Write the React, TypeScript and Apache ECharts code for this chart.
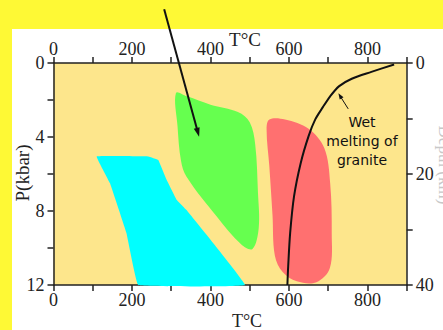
import React, { useEffect, useRef } from "react";
import * as echarts from "echarts";

// Tick labels
const tempLabels = [0, 200, 400, 600, 800];
const pressureLabels = [0, 4, 8, 12];
const depthLabels = [0, 20, 40];

// Regions [T°C, P kbar]
const cyanRegion: number[][] = [
  [110, 5.05], [242, 5.05], [267, 5.24], [288, 6.3], [314, 7.4], [339, 7.95],
  [488, 12], [216, 12], [186, 9.2], [144, 6.5],
];
const greenRegion: number[][] = [
  [312, 1.62], [340, 1.8], [400, 2.25], [470, 2.65], [500, 3.2], [514, 4.4],
  [521, 7.0], [523, 8.9], [507, 10.05], [478, 9.8], [416, 8.3], [339, 6.15],
  [325, 5.3], [316, 3.4],
];
const redRegion: number[][] = [
  [550, 3.05], [590, 3.05], [650, 3.55], [690, 4.6], [705, 6.5], [709, 9.2],
  [704, 11.1], [670, 11.85], [620, 11.8], [584, 11.3], [564, 10.4], [558, 8.2],
  [550, 5.6], [543, 3.6],
];
// Wet melting curve of granite
const wetMelting: number[][] = [
  [868, 0.08], [810, 0.48], [760, 0.85], [728, 1.25], [705, 1.8], [686, 2.4],
  [667, 3.05], [650, 3.95], [630, 5.4], [613, 7.2], [603, 9.2], [598, 11.0], [596, 12],
];
// Annotation arrows [from, to]
const bigArrow: number[][] = [[282, -2.9], [371, 3.98]];
const smallArrow: number[][] = [[751, 2.48], [726, 1.64]];
const wetLabelPos = [786, 4.2];

const serif = "Liberation Serif";
const axisColor = "#222";

function arrow(api: any, pts: number[][], lw: number, headLen: number, headW: number, color: string) {
  const a = api.coord(pts[0]);
  const b = api.coord(pts[1]);
  const dx = b[0] - a[0];
  const dy = b[1] - a[1];
  const len = Math.hypot(dx, dy);
  const ux = dx / len;
  const uy = dy / len;
  const bx = b[0] - ux * headLen;
  const by = b[1] - uy * headLen;
  const px = -uy;
  const py = ux;
  return {
    type: "group",
    children: [
      { type: "line", shape: { x1: a[0], y1: a[1], x2: bx + ux, y2: by + uy }, style: { stroke: color, lineWidth: lw } },
      {
        type: "polygon",
        shape: {
          points: [
            [b[0], b[1]],
            [bx + (px * headW) / 2, by + (py * headW) / 2],
            [bx - (px * headW) / 2, by - (py * headW) / 2],
          ],
        },
        style: { fill: color },
      },
    ],
  };
}

function regionSeries(pts: number[][], color: string, smooth: number) {
  return {
    type: "custom",
    coordinateSystem: "cartesian2d",
    xAxisIndex: 0,
    yAxisIndex: 0,
    silent: true,
    data: [[pts[0][0], pts[0][1]]],
    renderItem: (_p: any, api: any) => ({
      type: "polygon",
      shape: { points: pts.map((p) => api.coord(p)), smooth },
      style: { fill: color },
    }),
  };
}

export default function App() {
  const ref = useRef<HTMLDivElement>(null);
  useEffect(() => {
    const chart = echarts.init(ref.current!, null, { renderer: "svg" });
    const labelStyle = { fontFamily: serif, fontSize: 18, color: axisColor };
    const xAxisBase = {
      type: "value",
      min: 0,
      max: 900,
      interval: 100,
      splitLine: { show: false },
      axisLine: { show: true, onZero: false, lineStyle: { color: axisColor, width: 1.5 } },
      axisTick: { show: true, inside: false, length: 6, lineStyle: { color: axisColor, width: 1.5 } },
    };
    chart.setOption({
      animation: false,
      grid: {
        left: 53.5,
        right: 36.3,
        top: 63,
        bottom: 45,
        show: true,
        backgroundColor: "#fde68c",
        borderWidth: 0,
      },
      xAxis: [
        {
          ...xAxisBase,
          position: "bottom",
          axisLabel: {
            ...labelStyle,
            margin: 6,
            formatter: (v: number) => (tempLabels.includes(v) ? String(v) : ""),
          },
        },
        {
          ...xAxisBase,
          position: "top",
          axisLabel: {
            ...labelStyle,
            margin: 5,
            formatter: (v: number) => (tempLabels.includes(v) ? String(v) : ""),
          },
        },
      ],
      yAxis: [
        {
          type: "value",
          position: "left",
          min: 0,
          max: 12,
          interval: 2,
          inverse: true,
          splitLine: { show: false },
          axisLine: { show: true, onZero: false, lineStyle: { color: axisColor, width: 1.5 } },
          axisTick: { show: true, length: 6, lineStyle: { color: axisColor, width: 1.5 } },
          axisLabel: {
            ...labelStyle,
            margin: 9,
            formatter: (v: number) => (pressureLabels.includes(v) ? String(v) : ""),
          },
        },
        {
          type: "value",
          position: "right",
          min: 0,
          max: 40,
          interval: 10,
          inverse: true,
          splitLine: { show: false },
          axisLine: { show: true, onZero: false, lineStyle: { color: axisColor, width: 1.5 } },
          axisTick: { show: true, length: 6, lineStyle: { color: axisColor, width: 1.5 } },
          axisLabel: {
            ...labelStyle,
            margin: 9,
            formatter: (v: number) => (depthLabels.includes(v) ? String(v) : ""),
          },
        },
      ],
      graphic: [
        { type: "text", x: 245, y: 39, style: { text: "T°C", font: `19px "${serif}"`, fill: axisColor, align: "center", verticalAlign: "middle" } },
        { type: "text", x: 247, y: 321, style: { text: "T°C", font: `18px "${serif}"`, fill: axisColor, align: "center", verticalAlign: "middle" } },
        { type: "text", x: 22, y: 173, rotation: Math.PI / 2, style: { text: "P(kbar)", font: `19px "${serif}"`, fill: axisColor, align: "center", verticalAlign: "middle" } },
        { type: "text", x: 444, y: 165, rotation: -Math.PI / 2, style: { text: "Depth (km)", font: `17px "${serif}"`, fill: "#c8c8c8", align: "center", verticalAlign: "middle" } },
      ],
      series: [
        regionSeries(cyanRegion, "#00ffff", 0.05),
        regionSeries(greenRegion, "#66ff4f", 0.35),
        regionSeries(redRegion, "#ff7070", 0.35),
        {
          type: "line",
          xAxisIndex: 0,
          yAxisIndex: 0,
          data: wetMelting,
          smooth: 0.3,
          showSymbol: false,
          silent: true,
          lineStyle: { color: "#111", width: 2 },
        },
        {
          type: "custom",
          coordinateSystem: "cartesian2d",
          xAxisIndex: 0,
          yAxisIndex: 0,
          clip: false,
          silent: true,
          z: 10,
          data: [[wetLabelPos[0], wetLabelPos[1]]],
          renderItem: (_p: any, api: any) => {
            const lp = api.coord(wetLabelPos);
            return {
              type: "group",
              children: [
                arrow(api, bigArrow, 2, 9, 6, "#111"),
                arrow(api, smallArrow, 1, 6, 4.5, "#111"),
                {
                  type: "text",
                  x: lp[0],
                  y: lp[1],
                  style: {
                    text: "Wet\nmelting of\ngranite",
                    font: '14px "DejaVu Sans"',
                    fill: "#111",
                    align: "center",
                    verticalAlign: "middle",
                    lineHeight: 19,
                  },
                },
              ],
            };
          },
        },
      ],
    });
    return () => chart.dispose();
  }, []);
  return (
    <div style={{ position: "fixed", left: 0, top: 0, width: 443, height: 330, background: "#fef935", overflow: "hidden" }}>
      <div style={{ position: "absolute", left: 12, top: 29, right: 0, bottom: 0, background: "#ffffff" }} />
      <div ref={ref} style={{ position: "absolute", left: 0, top: 0, width: 443, height: 330 }} />
    </div>
  );
}
